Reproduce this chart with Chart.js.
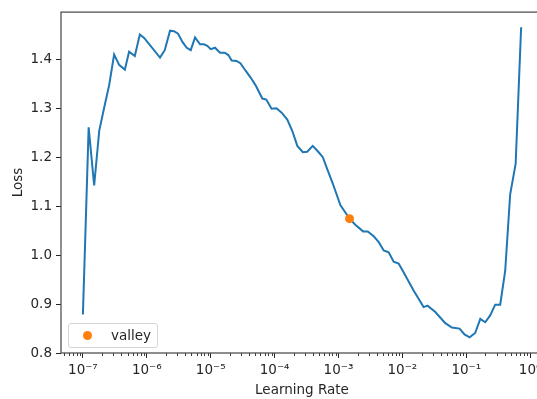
<!DOCTYPE html>
<html>
<head>
<meta charset="utf-8">
<script src="https://cdn.jsdelivr.net/npm/chart.js@4"></script>
<style>
html, body { margin: 0; padding: 0; overflow: hidden; background: #fff; }
#wrap { position: relative; width: 560px; height: 399px; }
#legend {
    position: absolute; left: 68px; top: 323px; width: 88px; height: 23px;
    border: 1px solid #d6d6d6; border-radius: 3px; background: rgba(255,255,255,0.8);
    font-family: 'DejaVu Sans', sans-serif; font-size: 13.5px; color: #262626;
}
#legend .dot {
    position: absolute; left: 14px; top: 7px; width: 9px; height: 9px;
    border-radius: 50%; background: #ff7f0e;
}
#legend .txt { position: absolute; left: 42px; top: 3px; }
</style>
</head>
<body>
<div id="wrap">
    <canvas id="lr-chart"></canvas>
    <div id="legend"><span class="dot"></span><span class="txt">valley</span></div>
</div>
<script>
const lrs = [
    1.0e-7, 1.23e-7, 1.50e-7, 1.80e-7, 2.15e-7, 2.58e-7, 3.08e-7, 3.69e-7, 4.53e-7, 5.28e-7,
    6.49e-7, 7.78e-7, 9.08e-7, 1.61e-6, 1.91e-6, 2.31e-6, 2.67e-6, 3.08e-6, 3.61e-6, 4.22e-6,
    4.87e-6, 5.69e-6, 6.81e-6, 7.85e-6, 8.87e-6, 1.0e-5, 1.17e-5, 1.40e-5, 1.66e-5, 1.89e-5,
    2.13e-5, 2.55e-5, 2.94e-5, 3.52e-5, 4.22e-5, 5.05e-5, 6.43e-5, 7.41e-5, 8.98e-5, 1.07e-4,
    1.29e-4, 1.58e-4, 1.89e-4, 2.27e-4, 2.77e-4, 3.24e-4, 3.96e-4, 4.82e-4, 5.69e-4, 6.65e-4,
    8.15e-4, 1.07e-3, 1.49e-3, 1.85e-3, 2.43e-3, 2.87e-3, 3.56e-3, 4.27e-3, 5.11e-3, 6.11e-3,
    7.31e-3, 8.75e-3, 1.05e-2, 1.50e-2, 2.15e-2, 2.48e-2, 3.28e-2, 4.70e-2, 5.98e-2, 7.85e-2,
    9.40e-2, 0.113, 0.138, 0.166, 0.198, 0.237, 0.284, 0.340, 0.407, 0.487,
    0.593, 0.723
];
const losses = [
    0.879, 1.262, 1.143, 1.255, 1.302, 1.349, 1.411, 1.390, 1.380, 1.417,
    1.408, 1.452, 1.445, 1.405, 1.420, 1.460, 1.459, 1.454, 1.437, 1.425,
    1.420, 1.446, 1.432, 1.432, 1.429, 1.422, 1.425, 1.415, 1.415, 1.410,
    1.399, 1.398, 1.393, 1.378, 1.364, 1.348, 1.321, 1.319, 1.300, 1.301,
    1.292, 1.278, 1.255, 1.224, 1.211, 1.212, 1.224, 1.212, 1.201, 1.177,
    1.147, 1.103, 1.075, 1.062, 1.049, 1.049, 1.039, 1.027, 1.010, 1.006,
    0.987, 0.983, 0.965, 0.928, 0.894, 0.897, 0.884, 0.861, 0.852, 0.850,
    0.838, 0.832, 0.841, 0.870, 0.863, 0.877, 0.899, 0.899, 0.968, 1.125,
    1.187, 1.467
];
const valleyLr = [1.49e-3];
const valleyLoss = [1.075];

const xTicks = [1e-7, 1e-6, 1e-5, 1e-4, 1e-3, 1e-2, 1e-1, 1];
const xTickLabels = ['10⁻⁷', '10⁻⁶', '10⁻⁵', '10⁻⁴', '10⁻³', '10⁻²', '10⁻¹', '10⁰'];
const yTicks = [0.8, 0.9, 1.0, 1.1, 1.2, 1.3, 1.4];

const font = { family: 'DejaVu Sans', size: 13.5 };
const ink = '#262626';

// spines + minor log ticks, matplotlib style
const framePlugin = {
    id: 'frame',
    afterDraw(chart) {
        const { ctx, chartArea: a, scales: { x } } = chart;
        ctx.save();
        ctx.strokeStyle = ink;
        ctx.lineWidth = 0.9;
        const decades = [xTicks[0] / 10].concat(xTicks);
        ctx.beginPath();
        decades.forEach(d => {
            for (let m = 2; m <= 9; m++) {
                const v = d * m;
                if (v < x.min || v > x.max) continue;
                const px = Math.round(x.getPixelForValue(v)) + 0.5;
                ctx.moveTo(px, a.bottom);
                ctx.lineTo(px, a.bottom + 3);
            }
        });
        ctx.stroke();
        ctx.lineWidth = 1.2;
        ctx.strokeStyle = '#444';
        ctx.strokeRect(a.left, a.top, a.right - a.left, a.bottom - a.top);
        ctx.restore();
    }
};

const lrConfig = {
    type: 'line',
    data: {
        datasets: [{
            label: 'loss',
            data: lrs.map((v, i) => ({ x: v, y: losses[i] })),
            borderColor: '#1f77b4',
            borderWidth: 2,
            pointRadius: 0,
            tension: 0,
            order: 2
        }, {
            label: 'valley',
            data: valleyLr.map((v, i) => ({ x: v, y: valleyLoss[i] })),
            showLine: false,
            pointRadius: 4.5,
            pointBackgroundColor: '#ff7f0e',
            pointBorderWidth: 0,
            order: 1
        }]
    },
    options: {
        responsive: true,
        maintainAspectRatio: false,
        animation: false,
        layout: { padding: { top: 9, right: 17, left: 0, bottom: 0 } },
        plugins: { legend: { display: false }, tooltip: { enabled: false } },
        scales: {
            x: {
                type: 'logarithmic',
                min: 4.54e-8,
                max: 1.59,
                afterBuildTicks: s => { s.ticks = xTicks.map(v => ({ value: v })); },
                afterFit: s => { s.height = 46; },
                ticks: {
                    callback: (v, i) => xTickLabels[i],
                    font: font, color: ink, padding: 4,
                    maxRotation: 0, autoSkip: false
                },
                grid: { drawOnChartArea: false, drawTicks: true, tickLength: 5, tickColor: ink },
                border: { display: false },
                title: { display: true, text: 'Learning Rate', font: font, color: ink, padding: { top: 0, bottom: 0 } }
            },
            y: {
                type: 'linear',
                min: 0.8,
                max: 1.498,
                afterBuildTicks: s => { s.ticks = yTicks.map(v => ({ value: v })); },
                afterFit: s => { s.width = 61; },
                ticks: {
                    callback: v => v.toFixed(1),
                    font: font, color: ink, padding: 4
                },
                grid: { drawOnChartArea: false, drawTicks: true, tickLength: 5, tickColor: ink },
                border: { display: false },
                title: { display: true, text: 'Loss', font: font, color: ink, padding: { top: 10, bottom: 0 } }
            }
        }
    },
    plugins: [framePlugin]
};

const lrChart = new Chart(document.getElementById('lr-chart'), lrConfig);
</script>
</body>
</html>
